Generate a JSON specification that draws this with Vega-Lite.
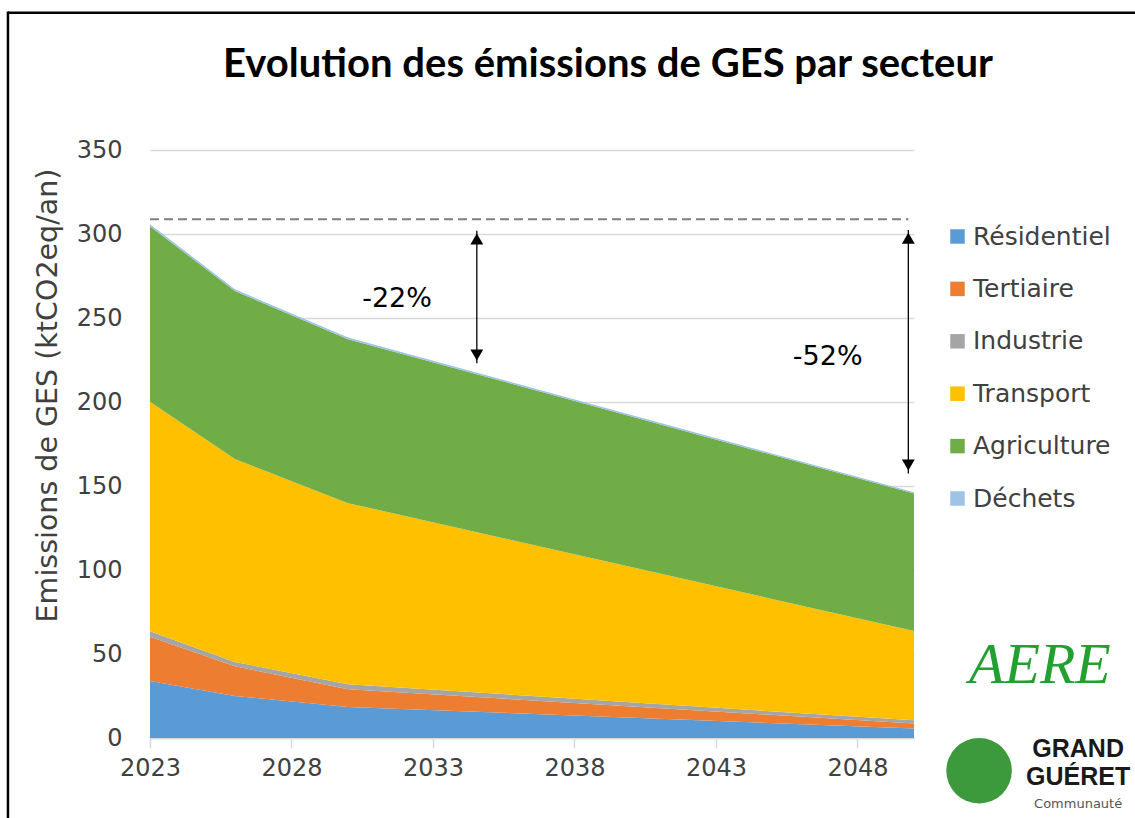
{
  "$schema": "https://vega.github.io/schema/vega-lite/v6.json",
  "width": 764,
  "height": 588,
  "autosize": "none",
  "padding": {"left": 150, "top": 150, "right": 221, "bottom": 80},
  "background": "white",
  "title": {
    "text": "Evolution des émissions de GES par secteur",
    "anchor": "middle",
    "frame": "group",
    "dx": 76,
    "offset": -75,
    "fontSize": 40,
    "fontWeight": "bold",
    "font": "Lato",
    "color": "#000000"
  },
  "config": {
    "view": {"stroke": null},
    "font": "DejaVu Sans",
    "axis": {"labelFont": "DejaVu Sans", "titleFont": "DejaVu Sans"},
    "legend": {"labelFont": "DejaVu Sans"}
  },
  "datasets": {
    "emissions": [
      {"annee": 2023, "secteur": "Résidentiel", "ordre": 1, "valeur": 34.0},
      {"annee": 2026, "secteur": "Résidentiel", "ordre": 1, "valeur": 25.0},
      {"annee": 2030, "secteur": "Résidentiel", "ordre": 1, "valeur": 18.5},
      {"annee": 2050, "secteur": "Résidentiel", "ordre": 1, "valeur": 5.6},
      {"annee": 2023, "secteur": "Tertiaire", "ordre": 2, "valeur": 26.2},
      {"annee": 2026, "secteur": "Tertiaire", "ordre": 2, "valeur": 17.7},
      {"annee": 2030, "secteur": "Tertiaire", "ordre": 2, "valeur": 10.5},
      {"annee": 2050, "secteur": "Tertiaire", "ordre": 2, "valeur": 3.0},
      {"annee": 2023, "secteur": "Industrie", "ordre": 3, "valeur": 3.3},
      {"annee": 2026, "secteur": "Industrie", "ordre": 3, "valeur": 2.6},
      {"annee": 2030, "secteur": "Industrie", "ordre": 3, "valeur": 3.0},
      {"annee": 2050, "secteur": "Industrie", "ordre": 3, "valeur": 1.9},
      {"annee": 2023, "secteur": "Transport", "ordre": 4, "valeur": 136.6},
      {"annee": 2026, "secteur": "Transport", "ordre": 4, "valeur": 120.7},
      {"annee": 2030, "secteur": "Transport", "ordre": 4, "valeur": 107.8},
      {"annee": 2050, "secteur": "Transport", "ordre": 4, "valeur": 53.2},
      {"annee": 2023, "secteur": "Agriculture", "ordre": 5, "valeur": 104.5},
      {"annee": 2026, "secteur": "Agriculture", "ordre": 5, "valeur": 100.0},
      {"annee": 2030, "secteur": "Agriculture", "ordre": 5, "valeur": 97.6},
      {"annee": 2050, "secteur": "Agriculture", "ordre": 5, "valeur": 81.8},
      {"annee": 2023, "secteur": "Déchets", "ordre": 6, "valeur": 1.2},
      {"annee": 2026, "secteur": "Déchets", "ordre": 6, "valeur": 1.1},
      {"annee": 2030, "secteur": "Déchets", "ordre": 6, "valeur": 1.0},
      {"annee": 2050, "secteur": "Déchets", "ordre": 6, "valeur": 0.8}
    ],
    "reference": [{"debut": 2023, "fin": 2049.8, "valeur": 308.8}],
    "fleches": [
      {"annee": 2034.55, "haut": 302, "bas": 223},
      {"annee": 2049.8, "haut": 302.4, "bas": 157.5}
    ],
    "pointes": [
      {"annee": 2034.55, "valeur": 297.0, "forme": "triangle-up"},
      {"annee": 2034.55, "valeur": 228.0, "forme": "triangle-down"},
      {"annee": 2049.8, "valeur": 297.5, "forme": "triangle-up"},
      {"annee": 2049.8, "valeur": 162.5, "forme": "triangle-down"}
    ],
    "etiquettes": [
      {"annee": 2031.73, "valeur": 261.3, "texte": "-22%"},
      {"annee": 2046.95, "valeur": 227, "texte": "-52%"}
    ],
    "cadre_h": [{"debut": 2017.98, "fin": 2058.5, "valeur": 431.7}],
    "cadre_v": [{"annee": 2017.98, "haut": 432.4, "bas": -50}],
    "logo_aere": [{"annee": 2054.45, "valeur": 43, "texte": "AERE"}],
    "logo_gg": [
      {"annee": 2055.8, "valeur": -6.5, "texte": "GRAND"},
      {"annee": 2055.8, "valeur": -23, "texte": "GUÉRET"}
    ],
    "logo_gg_sous": [{"annee": 2055.8, "valeur": -39.5, "texte": "Communauté"}],
    "logo_boule": [{"annee": 2052.3, "valeur": -19.5}]
  },
  "layer": [
    {
      "data": {"name": "emissions"},
      "mark": {"type": "area", "opacity": 1},
      "encoding": {
        "x": {
          "field": "annee",
          "type": "quantitative",
          "scale": {"domain": [2023, 2050], "nice": false, "zero": false},
          "axis": {
            "values": [2023, 2028, 2033, 2038, 2043, 2048],
            "format": "d",
            "title": null,
            "grid": false,
            "domainColor": "#d9d9d9",
            "domainWidth": 1.5,
            "tickColor": "#d9d9d9",
            "tickSize": 10,
            "tickWidth": 1.5,
            "labelFontSize": 24,
            "labelColor": "#404040",
            "labelPadding": 8,
            "labelFlush": false
          }
        },
        "y": {
          "field": "valeur",
          "type": "quantitative",
          "stack": "zero",
          "scale": {"domain": [0, 350], "nice": false},
          "axis": {
            "values": [0, 50, 100, 150, 200, 250, 300, 350],
            "title": "Emissions de GES (ktCO2eq/an)",
            "titleFontSize": 28.5,
            "titleFontWeight": "normal",
            "titleColor": "#404040",
            "titleX": -103,
            "titleY": 245,
            "titleAngle": -90,
            "titleBaseline": "middle",
            "titleAlign": "center",
            "grid": true,
            "gridColor": "#d9d9d9",
            "gridWidth": 1.5,
            "domain": false,
            "ticks": false,
            "labelFontSize": 24,
            "labelColor": "#404040",
            "labelPadding": 28
          }
        },
        "color": {
          "field": "secteur",
          "type": "nominal",
          "scale": {
            "domain": ["Résidentiel", "Tertiaire", "Industrie", "Transport", "Agriculture", "Déchets"],
            "range": ["#5B9BD5", "#ED7D31", "#A5A5A5", "#FFC000", "#70AD47", "#9DC3E6"]
          },
          "legend": {
            "title": null,
            "orient": "none",
            "legendX": 795,
            "legendY": 74,
            "symbolType": "square",
            "symbolSize": 210,
            "symbolStrokeWidth": 0,
            "labelFontSize": 25,
            "labelColor": "#404040",
            "rowPadding": 26.4,
            "labelOffset": 3
          }
        },
        "order": {"field": "ordre", "type": "quantitative", "sort": "ascending"}
      }
    },
    {
      "data": {"name": "reference"},
      "mark": {"type": "rule", "color": "#7f7f7f", "strokeWidth": 2, "strokeDash": [9, 5]},
      "encoding": {
        "x": {"field": "debut", "type": "quantitative"},
        "x2": {"field": "fin"},
        "y": {"field": "valeur", "type": "quantitative"}
      }
    },
    {
      "data": {"name": "fleches"},
      "mark": {"type": "rule", "color": "#000000", "strokeWidth": 1.3},
      "encoding": {
        "x": {"field": "annee", "type": "quantitative"},
        "y": {"field": "haut", "type": "quantitative"},
        "y2": {"field": "bas"}
      }
    },
    {
      "data": {"name": "pointes"},
      "mark": {"type": "point", "filled": true, "color": "#000000", "size": 165, "opacity": 1},
      "encoding": {
        "x": {"field": "annee", "type": "quantitative"},
        "y": {"field": "valeur", "type": "quantitative"},
        "shape": {"field": "forme", "type": "nominal", "scale": null, "legend": null}
      }
    },
    {
      "data": {"name": "etiquettes"},
      "mark": {"type": "text", "fontSize": 27, "color": "#000000", "align": "center", "baseline": "middle"},
      "encoding": {
        "x": {"field": "annee", "type": "quantitative"},
        "y": {"field": "valeur", "type": "quantitative"},
        "text": {"field": "texte"}
      }
    },
    {
      "data": {"name": "cadre_h"},
      "mark": {"type": "rule", "color": "#000000", "strokeWidth": 2.5},
      "encoding": {
        "x": {"field": "debut", "type": "quantitative"},
        "x2": {"field": "fin"},
        "y": {"field": "valeur", "type": "quantitative"}
      }
    },
    {
      "data": {"name": "cadre_v"},
      "mark": {"type": "rule", "color": "#000000", "strokeWidth": 2.5},
      "encoding": {
        "x": {"field": "annee", "type": "quantitative"},
        "y": {"field": "haut", "type": "quantitative"},
        "y2": {"field": "bas"}
      }
    },
    {
      "data": {"name": "logo_aere"},
      "mark": {"type": "text", "font": "Liberation Serif", "fontStyle": "italic", "fontSize": 58, "color": "#22A030", "align": "center", "baseline": "middle"},
      "encoding": {
        "x": {"field": "annee", "type": "quantitative"},
        "y": {"field": "valeur", "type": "quantitative"},
        "text": {"field": "texte"}
      }
    },
    {
      "data": {"name": "logo_boule"},
      "mark": {"type": "point", "shape": "circle", "filled": true, "color": "#3C9A3C", "size": 4300, "opacity": 1},
      "encoding": {
        "x": {"field": "annee", "type": "quantitative"},
        "y": {"field": "valeur", "type": "quantitative"}
      }
    },
    {
      "data": {"name": "logo_gg"},
      "mark": {"type": "text", "font": "Liberation Sans", "fontWeight": "bold", "fontSize": 25, "color": "#1a1a1a", "align": "center", "baseline": "middle"},
      "encoding": {
        "x": {"field": "annee", "type": "quantitative"},
        "y": {"field": "valeur", "type": "quantitative"},
        "text": {"field": "texte"}
      }
    },
    {
      "data": {"name": "logo_gg_sous"},
      "mark": {"type": "text", "font": "DejaVu Sans", "fontSize": 13, "color": "#555555", "align": "center", "baseline": "middle"},
      "encoding": {
        "x": {"field": "annee", "type": "quantitative"},
        "y": {"field": "valeur", "type": "quantitative"},
        "text": {"field": "texte"}
      }
    }
  ]
}
